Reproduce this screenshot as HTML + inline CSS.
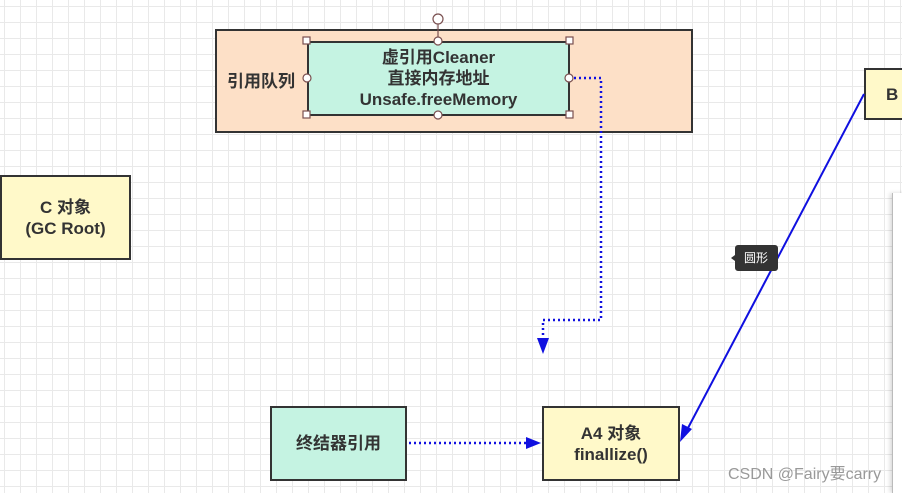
<!DOCTYPE html>
<html><head><meta charset="utf-8"><style>
body{margin:0;width:902px;height:493px;overflow:hidden;font-family:"Liberation Sans","Noto Sans CJK SC",sans-serif;
background-color:#fff;background-image:linear-gradient(#e9e9e9 1px,transparent 1px),linear-gradient(90deg,#e9e9e9 1px,transparent 1px);background-size:16px 16px;background-position:4px 6px;position:relative}
.b{position:absolute;box-sizing:border-box;border:2px solid #333;display:flex;align-items:center;justify-content:center;text-align:center;font-weight:bold;font-size:17px;color:#333;line-height:21px}
</style></head><body>
<div class="b" style="left:215px;top:29px;width:478px;height:104px;background:#fde0c7;justify-content:flex-start;padding-left:10px">引用队列</div>
<div class="b" style="left:307px;top:41px;width:263px;height:75px;background:#c5f3e2">虚引用Cleaner<br>直接内存地址<br>Unsafe.freeMemory</div>
<div class="b" style="left:0;top:175px;width:131px;height:85px;background:#fff9c9">C 对象<br>(GC Root)</div>
<div class="b" style="left:864px;top:68px;width:50px;height:52px;background:#fff9c9;justify-content:flex-start;padding-left:20px">B</div>
<div class="b" style="left:270px;top:406px;width:137px;height:75px;background:#c5f3e2">终结器引用</div>
<div class="b" style="left:542px;top:406px;width:138px;height:75px;background:#fff9c9">A4 对象<br>finallize()</div>
<div style="position:absolute;left:892px;top:193px;width:20px;height:300px;background:#fff;border-left:1px solid #bbb;box-shadow:-2px 0 4px rgba(0,0,0,.15)"></div>
<svg width="902" height="493" style="position:absolute;left:0;top:0">
<g fill="#fff" stroke="#7a5050" stroke-width="1.2">
<line x1="438" y1="20" x2="438" y2="41"/>
<circle cx="438" cy="19" r="5"/>
<rect x="303" y="37" width="7" height="7"/><rect x="566" y="37" width="7" height="7"/>
<rect x="303" y="111" width="7" height="7"/><rect x="566" y="111" width="7" height="7"/>
<circle cx="438" cy="41" r="4"/><circle cx="438" cy="115" r="4"/>
<circle cx="307" cy="78" r="4"/><circle cx="569" cy="78" r="4"/>
</g>
<g stroke="#1010e0" stroke-width="2.5" fill="none" stroke-dasharray="2,3">
<polyline points="574,78 601,78 601,320 543,320 543,338"/>
<line x1="409" y1="443" x2="528" y2="443"/>
</g>
<polygon points="537,338 549,338 543,354" fill="#1010e0"/>
<polygon points="526,437 526,449 541,443" fill="#1010e0"/>
<line x1="864" y1="94" x2="688" y2="428" stroke="#1010e0" stroke-width="2"/>
<polygon points="680,442 682,424 692,429" fill="#1010e0"/>
<path d="M738 245 h37 a3 3 0 0 1 3 3 v20 a3 3 0 0 1 -3 3 h-37 a3 3 0 0 1 -3 -3 v-7 l-4 -3 l4 -3 v-7 a3 3 0 0 1 3 -3z" fill="#333"/>
<text x="756" y="262" fill="#fff" font-size="12" text-anchor="middle" font-family="Liberation Sans,Noto Sans CJK SC,sans-serif">圆形</text>
<text x="728" y="479" fill="#999" font-size="16" font-family="Liberation Sans,Noto Sans CJK SC,sans-serif">CSDN @Fairy要carry</text>
</svg>
</body></html>
